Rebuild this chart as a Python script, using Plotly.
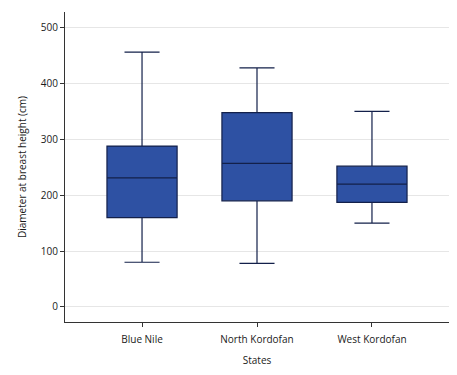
import plotly.graph_objects as go

states = ["Blue Nile", "North Kordofan", "West Kordofan"]
lower_whisker = [80, 78, 150]
q1 = [160, 190, 187]
median = [231, 257, 220]
q3 = [288, 348, 252]
upper_whisker = [456, 428, 350]

fig = go.Figure()
fig.add_trace(go.Box(
    x=states,
    q1=q1, median=median, q3=q3,
    lowerfence=lower_whisker, upperfence=upper_whisker,
    fillcolor="#2E51A3",
    line=dict(color="#13204a", width=1.2),
    width=0.61,
    whiskerwidth=0.5,
    boxpoints=False,
    showlegend=False,
))

fig.update_layout(
    width=457, height=375,
    margin=dict(l=65, r=8, t=12, b=53),
    paper_bgcolor="white", plot_bgcolor="white",
    font=dict(family="Open Sans, Noto Sans, sans-serif", size=10, color="#1a1a1a"),
)
fig.update_xaxes(
    range=[-0.67, 2.67], automargin=False,
    showline=True, linecolor="#333", linewidth=1.2,
    ticks="outside", ticklen=4, tickcolor="#333",
    ticklabelstandoff=4,
    title=dict(text="States", font=dict(size=10), standoff=11),
    showgrid=False, mirror=False,
)
fig.update_yaxes(
    range=[-27, 528], automargin=False,
    tickvals=[0, 100, 200, 300, 400, 500],
    showline=True, linecolor="#333", linewidth=1.2,
    ticks="outside", ticklen=4, tickcolor="#333",
    showgrid=True, gridcolor="#e6e6e6", gridwidth=1,
    zeroline=False,
    title=dict(text="Diameter at breast height (cm)", font=dict(size=10), standoff=12),
)

fig.write_html(
    "out.html",
    config={"displayModeBar": False},
    post_script="document.body.style.margin='0';document.body.style.overflow='hidden';",
)
